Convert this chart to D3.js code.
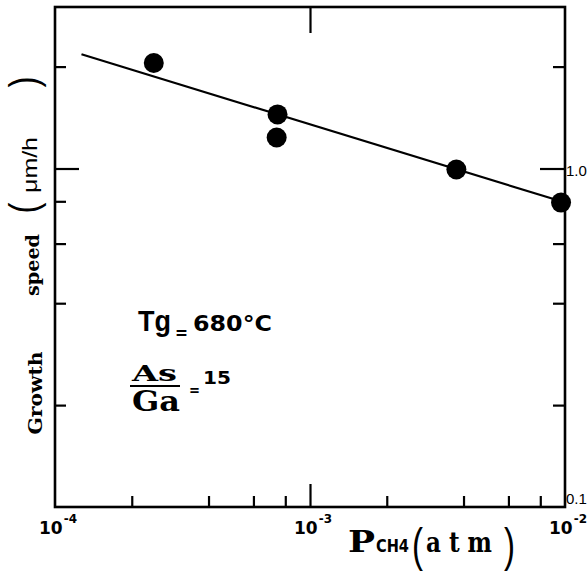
<!DOCTYPE html>
<html>
<head>
<meta charset="utf-8">
<script src="https://cdn.jsdelivr.net/npm/d3@7"></script>
<style>
  body { margin: 0; background: #fff; }
  svg { display: block; }
</style>
</head>
<body>
<div id="my_dataviz"></div>
<script>
// data
const pressure = [2.44e-4, 7.46e-4, 7.40e-4, 3.75e-3, 9.65e-3];   // P_CH4 (atm)
const growth   = [2.05, 1.445, 1.235, 0.993, 0.793];              // growth speed (um/h)
const fitPressure = [1.27e-4, 9.65e-3];
const fitGrowth   = [2.175, 0.80];

const xMinorTicks = [2e-4, 4e-4, 6e-4, 8e-4, 2e-3, 4e-3, 6e-3, 8e-3];
const xMajorTicks = [1e-3];
const xTickLabels = [1e-4, 1e-3, 1e-2];
const xTickExp = ["-4", "-3", "-2"];
const yMinorTicks = [0.2, 0.4, 0.6, 0.8, 2];
const yMajorTicks = [1];
const yTickValues = [1, 0.1];
const yTickText = ["1.0", "0.1"];

// set the dimensions and margins of the graph
const margin = {top: 7, right: 22, bottom: 64, left: 55},
    width = 587 - margin.left - margin.right,
    height = 571 - margin.top - margin.bottom;

const svg = d3.select("#my_dataviz")
  .append("svg")
    .attr("width", 587)
    .attr("height", 571)
  .append("g")
    .attr("transform", `translate(${margin.left},${margin.top})`);

const x = d3.scaleLog()
  .domain([1e-4, 1e-2])
  .range([0, width]);

const y = d3.scaleLog()
  .domain([0.1, 3])
  .range([height, 0]);

// ticks, all pointing inward
function tickAxis(axis, values, size, transform) {
  const g = svg.append("g")
    .attr("transform", transform)
    .call(axis.tickValues(values).tickSize(size).tickSizeOuter(0).tickFormat(""));
  g.select(".domain").remove();
  g.selectAll(".tick line").attr("stroke", "#000").attr("stroke-width", 2.2);
}
tickAxis(d3.axisBottom(x), xMinorTicks, -11, `translate(0,${height})`);
tickAxis(d3.axisBottom(x), xMajorTicks, -23, `translate(0,${height})`);
tickAxis(d3.axisTop(x), xMajorTicks, -26, "translate(0,0)");
tickAxis(d3.axisLeft(y), yMinorTicks, -11, "translate(0,0)");
tickAxis(d3.axisLeft(y), yMajorTicks, -24, "translate(0,0)");
tickAxis(d3.axisRight(y), yMinorTicks, -12, `translate(${width},0)`);
tickAxis(d3.axisRight(y), yMajorTicks, -25, `translate(${width},0)`);

// frame
svg.append("rect")
  .attr("x", 0).attr("y", 0)
  .attr("width", width).attr("height", height)
  .attr("fill", "none")
  .attr("stroke", "#000")
  .attr("stroke-width", 2.6);

// x tick labels 10^n
xTickLabels.forEach((v, i) => {
  const t = svg.append("text")
    .attr("x", x(v) - 16)
    .attr("y", height + 27)
    .style("font-family", "'DejaVu Sans'")
    .style("font-weight", "bold")
    .style("font-size", "17px");
  t.append("tspan").text("10");
  t.append("tspan")
    .attr("dy", -11)
    .attr("dx", 1)
    .style("font-size", "12px")
    .text(xTickExp[i]);
});

// y tick labels on the right
yTickValues.forEach((v, i) => {
  svg.append("text")
    .attr("x", width + 1)
    .attr("y", y(v) + (v === 1 ? 7 : -3))
    .style("font-family", "'Liberation Sans Narrow', 'Liberation Sans'")
    .style("font-size", "15px")
    .text(yTickText[i]);
});

// fitted line
svg.append("path")
  .datum(fitPressure.map((p, i) => [p, fitGrowth[i]]))
  .attr("fill", "none")
  .attr("stroke", "#000")
  .attr("stroke-width", 2.2)
  .attr("d", d3.line()
    .x(d => x(d[0]))
    .y(d => y(d[1])));

// measured points
svg.selectAll("circle.pt")
  .data(pressure.map((p, i) => [p, growth[i]]))
  .join("circle")
    .attr("class", "pt")
    .attr("cx", d => x(d[0]))
    .attr("cy", d => y(d[1]))
    .attr("r", 10)
    .attr("fill", "#000");

// x axis title  P_CH4 (atm)
const serif = "'DejaVu Serif'", sans = "'DejaVu Sans'";
function label(txt, px, py, font, size, weight, len) {
  const t = svg.append("text")
    .attr("x", px - margin.left)
    .attr("y", py - margin.top)
    .style("font-family", font)
    .style("font-size", size + "px")
    .style("font-weight", weight)
    .text(txt);
  if (len) t.attr("textLength", len).attr("lengthAdjust", "spacingAndGlyphs");
  return t;
}
label("P", 348, 552, serif, 29, "bold", 27);
label("CH4", 376, 552, sans, 17, "bold", 33);
label("(", 412, 561, "'Liberation Sans'", 46, "normal", 11);
label("a t m", 426, 552, serif, 28, "bold", 66);
label(")", 504, 561, "'Liberation Sans'", 46, "normal", 11);

// annotations
label("Tg", 138, 331, "'Liberation Sans'", 29, "bold", 33);
label("=", 175, 339, sans, 17, "bold", 13);
label("680°C", 193, 331, sans, 22, "bold", 79);
label("As", 132, 381, serif, 23, "bold", 45);
svg.append("line")
  .attr("x1", 130 - margin.left).attr("x2", 180 - margin.left)
  .attr("y1", 386 - margin.top).attr("y2", 386 - margin.top)
  .attr("stroke", "#000").attr("stroke-width", 2.2);
label("Ga", 132, 411, serif, 27, "bold", 48);
label("=", 189, 395, sans, 15, "bold", 11);
label("15", 203, 384, sans, 18, "bold", 28);

// y axis title, rotated
function vlabel(txt, px, py, font, size, weight, len) {
  const t = svg.append("text")
    .attr("transform", `translate(${px - margin.left},${py - margin.top}) rotate(-90)`)
    .attr("text-anchor", "middle")
    .style("font-family", font)
    .style("font-size", size + "px")
    .style("font-weight", weight)
    .text(txt);
  if (len) t.attr("textLength", len).attr("lengthAdjust", "spacingAndGlyphs");
  return t;
}
vlabel("Growth", 42, 393, serif, 19, "bold", 83);
vlabel("speed", 39, 265, serif, 19, "bold", 62);
vlabel("(", 38, 208, "'Liberation Sans'", 40, "normal", 11);
vlabel("μm/h", 37, 165, "'Liberation Sans'", 21, "normal", 56);
vlabel(")", 38, 82, "'Liberation Sans'", 40, "normal", 11);
</script>
</body>
</html>
